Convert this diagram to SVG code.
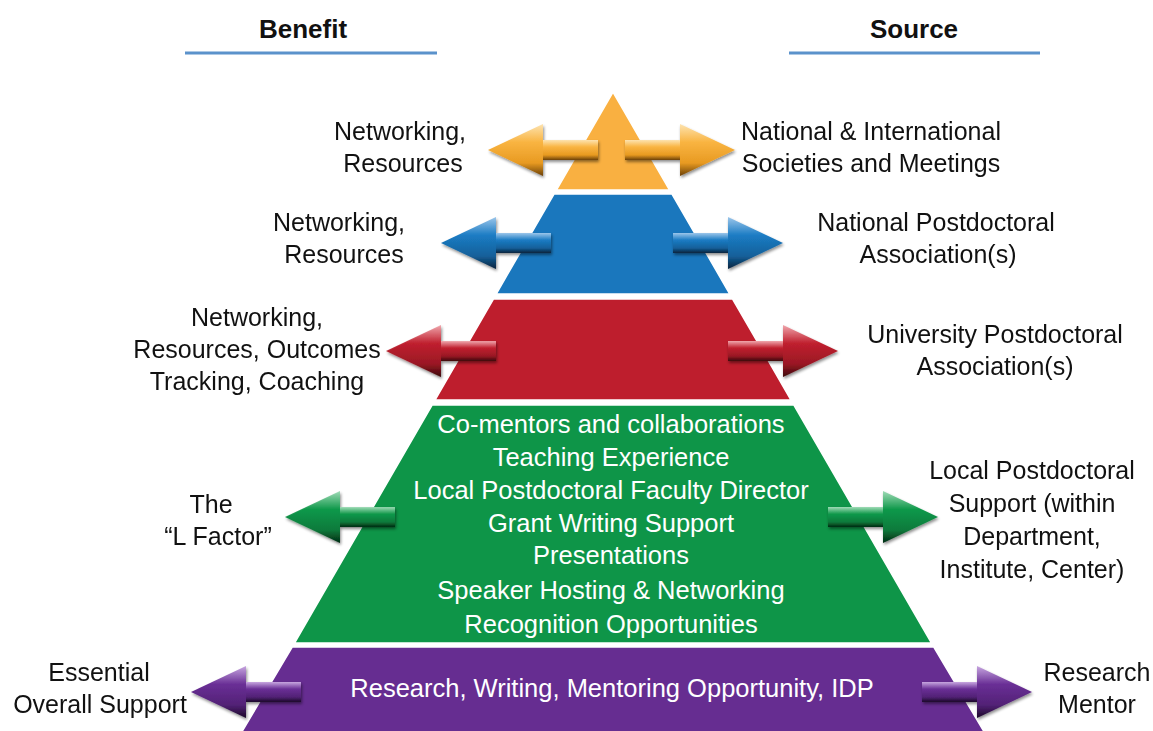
<svg xmlns="http://www.w3.org/2000/svg" xmlns:xlink="http://www.w3.org/1999/xlink" width="1153" height="731" viewBox="0 0 1153 731">
  <style>
    .hdr { font-family: "Liberation Sans", Arial, sans-serif; font-weight: bold; font-size: 26px; fill: #111; text-anchor: middle; }
    .lbl { font-family: "Liberation Sans", Arial, sans-serif; font-size: 25px; fill: #111; text-anchor: middle; }
    .in  { font-family: "Liberation Sans", Arial, sans-serif; font-size: 25.5px; fill: #fff; text-anchor: middle; }
    .rule { stroke: #5b92cb; stroke-width: 3; }
    .tier { stroke: #ffffff; stroke-width: 1.5; stroke-linejoin: round; }
  </style>
  <defs>
    <!-- bevelled block arrow pointing right, origin at the shaft's base -->
    <g id="arrowR">
      <rect x="0" y="-10" width="56" height="20"/>
      <polygon points="55,-26 110,0 55,26"/>
    </g>
    <linearGradient id="gO" x1="0" y1="0" x2="0" y2="1">
      <stop offset="0" stop-color="#fde3b0"/>
      <stop offset="0.35" stop-color="#f9b441"/>
      <stop offset="0.75" stop-color="#e89a22"/>
      <stop offset="1" stop-color="#6b4006"/>
    </linearGradient>
    <linearGradient id="gB" x1="0" y1="0" x2="0" y2="1">
      <stop offset="0" stop-color="#9cc6ea"/>
      <stop offset="0.35" stop-color="#1b7cc4"/>
      <stop offset="0.75" stop-color="#15609a"/>
      <stop offset="1" stop-color="#06233d"/>
    </linearGradient>
    <linearGradient id="gR" x1="0" y1="0" x2="0" y2="1">
      <stop offset="0" stop-color="#f0a7ad"/>
      <stop offset="0.35" stop-color="#c0202f"/>
      <stop offset="0.75" stop-color="#9a1824"/>
      <stop offset="1" stop-color="#3c060b"/>
    </linearGradient>
    <linearGradient id="gG" x1="0" y1="0" x2="0" y2="1">
      <stop offset="0" stop-color="#9fdbb6"/>
      <stop offset="0.35" stop-color="#11994b"/>
      <stop offset="0.75" stop-color="#0c7a3b"/>
      <stop offset="1" stop-color="#032b13"/>
    </linearGradient>
    <linearGradient id="gP" x1="0" y1="0" x2="0" y2="1">
      <stop offset="0" stop-color="#c7a6e0"/>
      <stop offset="0.35" stop-color="#6a2f96"/>
      <stop offset="0.75" stop-color="#522276"/>
      <stop offset="1" stop-color="#1b0828"/>
    </linearGradient>
    <filter id="shadow" x="-20%" y="-40%" width="140%" height="180%">
      <feGaussianBlur in="SourceAlpha" stdDeviation="1.5"/>
      <feOffset dx="1" dy="2" result="b"/>
      <feComponentTransfer><feFuncA type="linear" slope="0.45"/></feComponentTransfer>
      <feMerge><feMergeNode/><feMergeNode in="SourceGraphic"/></feMerge>
    </filter>
  </defs>

  <rect width="1153" height="731" fill="#ffffff"/>

  <!-- column headings -->
  <g id="headings">
    <text class="hdr" x="303" y="38">Benefit</text>
    <line class="rule" x1="185" y1="53" x2="437" y2="53"/>
    <text class="hdr" x="914" y="38">Source</text>
    <line class="rule" x1="789" y1="53" x2="1040" y2="53"/>
  </g>

  <!-- pyramid tiers -->
  <g id="tier-international">
    <polygon class="tier" fill="#f9b041" points="613,92 556.4,190 669.6,190"/>
  </g>
  <g id="tier-national">
    <polygon class="tier" fill="#1a77bd" points="554,194 672,194 729.8,294 496.2,294"/>
  </g>
  <g id="tier-university">
    <polygon class="tier" fill="#be1e2d" points="493.4,299 732.6,299 791,400 435,400"/>
  </g>
  <g id="tier-local">
    <polygon class="tier" fill="#0e9548" points="432.1,405 793.9,405 931.5,643 294.5,643"/>
    <text class="in" x="611" y="433">Co-mentors and collaborations</text>
    <text class="in" x="611" y="466">Teaching Experience</text>
    <text class="in" x="611" y="499">Local Postdoctoral Faculty Director</text>
    <text class="in" x="611" y="532">Grant Writing Support</text>
    <text class="in" x="611" y="564">Presentations</text>
    <text class="in" x="611" y="599">Speaker Hosting &amp; Networking</text>
    <text class="in" x="611" y="633">Recognition Opportunities</text>
  </g>
  <g id="tier-mentor">
    <polygon class="tier" fill="#662d91" points="292.2,647 933.8,647 986,735 240,735"/>
    <text class="in" x="612" y="697">Research, Writing, Mentoring Opportunity, IDP</text>
  </g>

  <!-- connectors: double-ended benefit/source arrows -->
  <g id="connectors" filter="url(#shadow)">
    <use xlink:href="#arrowR" fill="url(#gO)" transform="translate(598,150) scale(-1,1)"/>
    <use xlink:href="#arrowR" fill="url(#gO)" transform="translate(625,150)"/>
    <use xlink:href="#arrowR" fill="url(#gB)" transform="translate(551,243) scale(-1,1)"/>
    <use xlink:href="#arrowR" fill="url(#gB)" transform="translate(673,243)"/>
    <use xlink:href="#arrowR" fill="url(#gR)" transform="translate(496,351) scale(-1,1)"/>
    <use xlink:href="#arrowR" fill="url(#gR)" transform="translate(728,351)"/>
    <use xlink:href="#arrowR" fill="url(#gG)" transform="translate(395,517) scale(-1,1)"/>
    <use xlink:href="#arrowR" fill="url(#gG)" transform="translate(828,517)"/>
    <use xlink:href="#arrowR" fill="url(#gP)" transform="translate(301,692) scale(-1,1)"/>
    <use xlink:href="#arrowR" fill="url(#gP)" transform="translate(922,692)"/>
  </g>

  <!-- benefit labels -->
  <g id="benefit-international">
    <text class="lbl" x="400" y="140">Networking,</text>
    <text class="lbl" x="403" y="172">Resources</text>
  </g>
  <g id="benefit-national">
    <text class="lbl" x="339" y="231">Networking,</text>
    <text class="lbl" x="344" y="263">Resources</text>
  </g>
  <g id="benefit-university">
    <text class="lbl" x="257" y="326">Networking,</text>
    <text class="lbl" x="257" y="358">Resources, Outcomes</text>
    <text class="lbl" x="257" y="390">Tracking, Coaching</text>
  </g>
  <g id="benefit-local">
    <text class="lbl" x="211" y="513">The</text>
    <text class="lbl" x="218" y="545">“L Factor”</text>
  </g>
  <g id="benefit-mentor">
    <text class="lbl" x="99" y="681">Essential</text>
    <text class="lbl" x="100" y="713">Overall Support</text>
  </g>

  <!-- source labels -->
  <g id="source-international">
    <text class="lbl" x="871" y="140">National &amp; International</text>
    <text class="lbl" x="871" y="172">Societies and Meetings</text>
  </g>
  <g id="source-national">
    <text class="lbl" x="936" y="231">National Postdoctoral</text>
    <text class="lbl" x="938" y="263">Association(s)</text>
  </g>
  <g id="source-university">
    <text class="lbl" x="995" y="343">University Postdoctoral</text>
    <text class="lbl" x="995" y="375">Association(s)</text>
  </g>
  <g id="source-local">
    <text class="lbl" x="1032" y="479">Local Postdoctoral</text>
    <text class="lbl" x="1032" y="512">Support (within</text>
    <text class="lbl" x="1032" y="545">Department,</text>
    <text class="lbl" x="1032" y="578">Institute, Center)</text>
  </g>
  <g id="source-mentor">
    <text class="lbl" x="1097" y="681">Research</text>
    <text class="lbl" x="1097" y="713">Mentor</text>
  </g>
</svg>
